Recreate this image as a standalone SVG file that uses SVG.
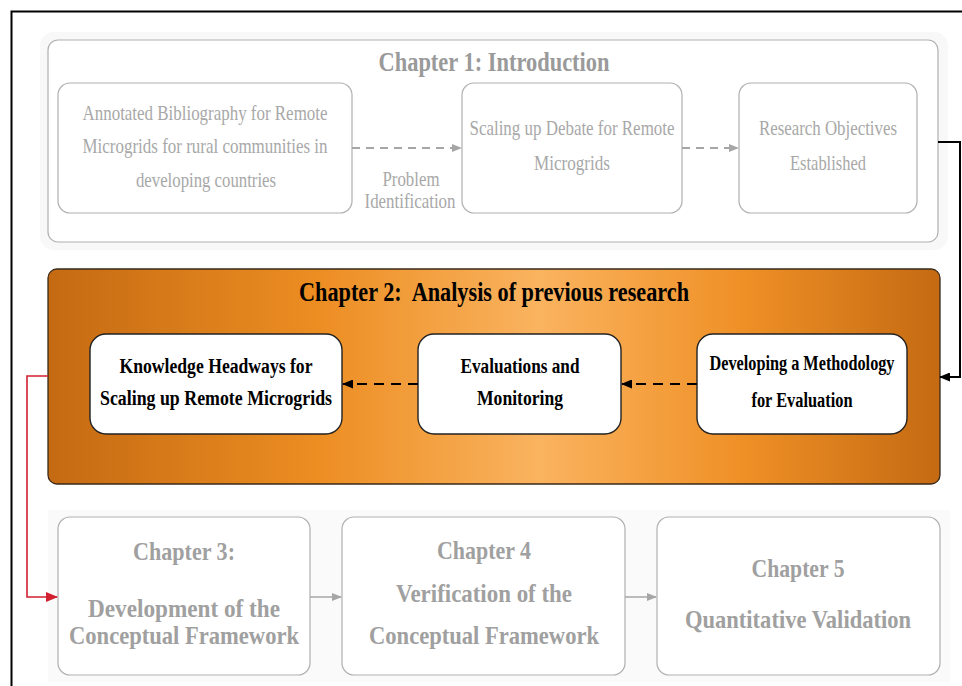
<svg xmlns="http://www.w3.org/2000/svg" width="962" height="686" viewBox="0 0 962 686">
<defs>
<linearGradient id="og" x1="0" y1="0" x2="1" y2="0">
<stop offset="0" stop-color="#c46a12"/>
<stop offset="0.3" stop-color="#ec8d22"/>
<stop offset="0.55" stop-color="#fab35f"/>
<stop offset="0.78" stop-color="#ef9026"/>
<stop offset="1" stop-color="#c46a12"/>
</linearGradient>
<marker id="ag" markerWidth="10" markerHeight="8" refX="9" refY="4" orient="auto" markerUnits="userSpaceOnUse"><path d="M0,0 L10,4 L0,8 z" fill="#a6a6a6"/></marker>
<marker id="ab" markerWidth="11" markerHeight="9" refX="10" refY="4.5" orient="auto" markerUnits="userSpaceOnUse"><path d="M0,0 L11,4.5 L0,9 z" fill="#000"/></marker>
<marker id="ar" markerWidth="12" markerHeight="10" refX="11" refY="5" orient="auto" markerUnits="userSpaceOnUse"><path d="M0,0 L12,5 L0,10 z" fill="#d22030"/></marker>
</defs>
<style>
.t{font-family:"Liberation Serif","Times New Roman",serif;text-anchor:middle}
.g1{fill:#a8a8a8;font-size:21px}
.gt{fill:#9a9a9a;font-size:27px;font-weight:bold}
.gb{fill:#a0a0a0;font-size:26px;font-weight:bold}
.bb{fill:#000;font-size:20px;font-weight:bold}
.bt{fill:#000;font-size:27px;font-weight:bold;white-space:pre}
.gbox{fill:#fff;stroke:#b0b0b0;stroke-width:1.2}
.wbox{fill:#fff;stroke:#222;stroke-width:1.4}
.gd{stroke:#a6a6a6;stroke-width:2;stroke-dasharray:8 6;fill:none}
.bd{stroke:#000;stroke-width:2.2;stroke-dasharray:10 7;fill:none}
.gs{stroke:#a6a6a6;stroke-width:1.5;fill:none}
</style>
<rect x="0" y="0" width="962" height="686" fill="#fff"/>
<rect x="11.5" y="11.5" width="960" height="690" fill="none" stroke="#000" stroke-width="2"/>

<g id="chapter1">
<rect x="40" y="32" width="908" height="218" rx="14" fill="#f8f8f8"/>
<rect x="48" y="40" width="890" height="202" rx="10" class="gbox" stroke-width="1.5"/>
<text x="494" y="71" class="t gt" textLength="231" lengthAdjust="spacingAndGlyphs">Chapter 1: Introduction</text>
</g>
<g id="annotated">
<rect x="58" y="83" width="294" height="130" rx="12" class="gbox"/>
<text class="t g1" x="205" y="120" textLength="245" lengthAdjust="spacingAndGlyphs">Annotated Bibliography for Remote</text>
<text class="t g1" x="205" y="153" textLength="245" lengthAdjust="spacingAndGlyphs">Microgrids for rural communities in</text>
<text class="t g1" x="206" y="187" textLength="140" lengthAdjust="spacingAndGlyphs">developing countries</text>
</g>
<g id="scaling">
<rect x="462" y="83" width="220" height="130" rx="12" class="gbox"/>
<text class="t g1" x="572" y="135" textLength="205" lengthAdjust="spacingAndGlyphs">Scaling up Debate for Remote</text>
<text class="t g1" x="572" y="170" textLength="76" lengthAdjust="spacingAndGlyphs">Microgrids</text>
</g>
<g id="objectives">
<rect x="739" y="83" width="178" height="130" rx="12" class="gbox"/>
<text class="t g1" x="828" y="135" textLength="138" lengthAdjust="spacingAndGlyphs">Research Objectives</text>
<text class="t g1" x="828" y="170" textLength="76" lengthAdjust="spacingAndGlyphs">Established</text>
</g>
<g id="problem-label">
<text class="t g1" x="411" y="186" textLength="57" lengthAdjust="spacingAndGlyphs">Problem</text>
<text class="t g1" x="410" y="208" textLength="91" lengthAdjust="spacingAndGlyphs">Identification</text>
</g>

<g id="chapter2">
<rect x="48" y="269" width="892" height="215" rx="9" fill="url(#og)" stroke="#3a2a1a" stroke-width="1.3"/>
<text x="494" y="301" class="t bt" xml:space="preserve" textLength="390" lengthAdjust="spacingAndGlyphs">Chapter 2:  Analysis of previous research</text>
</g>
<g id="knowledge">
<rect x="90" y="334" width="252" height="100" rx="16" class="wbox"/>
<text class="t bb" x="216" y="373" textLength="193" lengthAdjust="spacingAndGlyphs">Knowledge Headways for</text>
<text class="t bb" x="216" y="405" textLength="232" lengthAdjust="spacingAndGlyphs">Scaling up Remote Microgrids</text>
</g>
<g id="evaluations">
<rect x="418" y="334" width="203" height="100" rx="16" class="wbox"/>
<text class="t bb" x="520" y="373" textLength="119" lengthAdjust="spacingAndGlyphs">Evaluations and</text>
<text class="t bb" x="520" y="405" textLength="86" lengthAdjust="spacingAndGlyphs">Monitoring</text>
</g>
<g id="methodology">
<rect x="697" y="334" width="210" height="100" rx="16" class="wbox"/>
<text class="t bb" x="802" y="370" textLength="185" lengthAdjust="spacingAndGlyphs">Developing a Methodology</text>
<text class="t bb" x="802" y="407" textLength="101" lengthAdjust="spacingAndGlyphs">for Evaluation</text>
</g>

<rect x="48" y="510" width="902" height="172" fill="#fafafa"/>
<g id="chapter3">
<rect x="58" y="517" width="252" height="158" rx="12" class="gbox"/>
<text class="t gb" x="184" y="560" textLength="102" lengthAdjust="spacingAndGlyphs">Chapter 3:</text>
<text class="t gb" x="184" y="617" textLength="192" lengthAdjust="spacingAndGlyphs">Development of the</text>
<text class="t gb" x="184" y="644" textLength="230" lengthAdjust="spacingAndGlyphs">Conceptual Framework</text>
</g>
<g id="chapter4">
<rect x="342" y="517" width="283" height="158" rx="12" class="gbox"/>
<text class="t gb" x="484" y="559" textLength="94" lengthAdjust="spacingAndGlyphs">Chapter 4</text>
<text class="t gb" x="484" y="602" textLength="176" lengthAdjust="spacingAndGlyphs">Verification of the</text>
<text class="t gb" x="484" y="644" textLength="230" lengthAdjust="spacingAndGlyphs">Conceptual Framework</text>
</g>
<g id="chapter5">
<rect x="657" y="517" width="283" height="158" rx="12" class="gbox"/>
<text class="t gb" x="798" y="577" textLength="93" lengthAdjust="spacingAndGlyphs">Chapter 5</text>
<text class="t gb" x="798" y="628" textLength="226" lengthAdjust="spacingAndGlyphs">Quantitative Validation</text>
</g>

<g id="connectors">
<path class="gd" d="M352,148 H461" marker-end="url(#ag)"/>
<path class="gd" d="M682,148 H738" marker-end="url(#ag)"/>
<path d="M938,142 H960 V377 H940" fill="none" stroke="#000" stroke-width="2" marker-end="url(#ab)"/>
<path class="bd" d="M697,384 H622" marker-end="url(#ab)"/>
<path class="bd" d="M418,384 H343" marker-end="url(#ab)"/>
<path d="M48,376 H27 V597 H57" fill="none" stroke="#d22030" stroke-width="1.6" marker-end="url(#ar)"/>
<path class="gs" d="M310,597 H341" marker-end="url(#ag)"/>
<path class="gs" d="M625,597 H656" marker-end="url(#ag)"/>
</g>
</svg>
